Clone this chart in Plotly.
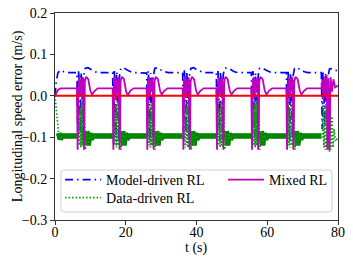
import plotly.graph_objects as go

# ---------------- data ----------------
model_t = [0.0, 0.3, 0.8, 1.5, 2.5, 4.0,
           6.2, 6.45, 6.65, 6.9, 7.15, 7.35, 7.6, 7.9, 8.15, 8.5, 9.3, 10.3, 11.3, 12.3,
           16.3, 16.55, 16.75, 17.0, 17.25, 17.45, 17.7, 18.0, 18.25, 18.6, 19.4, 20.4, 21.4, 22.4,
           25.9, 26.15, 26.35, 26.6, 26.85, 27.05, 27.3, 27.6, 27.85, 28.2, 29.0, 30.0, 31.0, 32.0,
           36.1, 36.35, 36.55, 36.8, 37.05, 37.25, 37.5, 37.8, 38.05, 38.4, 39.2, 40.2, 41.2, 42.2,
           45.6, 45.85, 46.05, 46.3, 46.55, 46.75, 47.0, 47.3, 47.55, 47.9, 48.7, 49.7, 50.7, 51.7,
           55.5, 55.75, 55.95, 56.2, 56.45, 56.65, 56.9, 57.2, 57.45, 57.8, 58.6, 59.6, 60.6, 61.6,
           65.4, 65.65, 65.85, 66.1, 66.35, 66.55, 66.8, 67.1, 67.35, 67.7, 68.5, 69.5, 70.5, 71.5,
           75.3, 75.55, 75.75, 76.0, 76.25, 76.45, 76.7, 77.0, 77.25, 77.6, 78.4, 79.2, 80.0]
model_v = [0.0, 0.03, 0.055, 0.062, 0.058, 0.056,
           0.056, -0.10, 0.06, 0.03, -0.09, 0.055, 0.035, -0.11, 0.05, 0.066, 0.068, 0.062, 0.058, 0.056,
           0.056, -0.12, 0.06, 0.025, -0.10, 0.058, 0.03, -0.11, 0.05, 0.066, 0.068, 0.062, 0.058, 0.056,
           0.055, -0.10, 0.06, 0.03, -0.11, 0.055, 0.035, -0.10, 0.05, 0.066, 0.068, 0.062, 0.058, 0.056,
           0.056, -0.11, 0.062, 0.03, -0.09, 0.055, 0.03, -0.11, 0.05, 0.066, 0.068, 0.062, 0.058, 0.056,
           0.056, -0.10, 0.06, 0.03, -0.11, 0.055, 0.035, -0.10, 0.05, 0.066, 0.068, 0.062, 0.058, 0.056,
           0.056, -0.11, 0.06, 0.03, -0.10, 0.055, 0.03, -0.11, 0.05, 0.066, 0.068, 0.062, 0.058, 0.056,
           0.056, -0.10, 0.062, 0.03, -0.11, 0.055, 0.035, -0.10, 0.05, 0.066, 0.068, 0.062, 0.058, 0.056,
           0.056, -0.08, 0.06, 0.02, -0.07, 0.055, 0.03, -0.06, 0.05, 0.065, 0.066, 0.062, 0.06]

mixed_t = [0.0, 0.8, 1.6,
           6.2, 6.4, 6.65, 6.9, 7.15, 7.4, 7.65, 7.9, 8.2, 8.45, 8.8, 9.4, 10.0, 10.5, 11.2, 12.1,
           16.3, 16.5, 16.75, 17.0, 17.25, 17.5, 17.75, 18.0, 18.3, 18.55, 18.9, 19.5, 20.1, 20.6, 21.3, 22.2,
           25.9, 26.1, 26.35, 26.6, 26.85, 27.1, 27.35, 27.6, 27.9, 28.15, 28.5, 29.1, 29.7, 30.2, 30.9, 31.8,
           36.1, 36.3, 36.55, 36.8, 37.05, 37.3, 37.55, 37.8, 38.1, 38.35, 38.7, 39.3, 39.9, 40.4, 41.1, 42.0,
           45.6, 45.8, 46.05, 46.3, 46.55, 46.8, 47.05, 47.3, 47.6, 47.85, 48.2, 48.8, 49.4, 49.9, 50.6, 51.5,
           55.5, 55.7, 55.95, 56.2, 56.45, 56.7, 56.95, 57.2, 57.5, 57.75, 58.1, 58.7, 59.3, 59.8, 60.5, 61.4,
           65.4, 65.6, 65.85, 66.1, 66.35, 66.6, 66.85, 67.1, 67.4, 67.65, 68.0, 68.6, 69.2, 69.7, 70.4, 71.3,
           75.3, 75.6, 75.9, 76.2, 76.5, 76.8, 77.0, 77.3, 77.6, 77.9, 78.3, 78.7, 79.2, 80.0]
mixed_v = [0.0, 0.014, 0.018,
           0.018, -0.13, 0.03, 0.045, 0.0, 0.04, 0.01, 0.045, -0.13, 0.035, 0.046, 0.04, 0.012, 0.003, 0.012, 0.018,
           0.018, -0.13, 0.035, 0.045, -0.01, 0.04, 0.005, 0.045, -0.13, 0.035, 0.046, 0.04, 0.01, 0.002, 0.012, 0.018,
           0.018, -0.13, 0.03, 0.045, 0.0, 0.04, 0.01, 0.045, -0.13, 0.035, 0.046, 0.04, 0.012, 0.003, 0.012, 0.018,
           0.018, -0.13, 0.035, 0.045, -0.005, 0.04, 0.01, 0.045, -0.13, 0.035, 0.046, 0.04, 0.012, 0.003, 0.012, 0.018,
           0.018, -0.13, 0.03, 0.045, 0.0, 0.04, 0.01, 0.045, -0.13, 0.035, 0.046, 0.04, 0.012, 0.003, 0.012, 0.018,
           0.018, -0.13, 0.035, 0.045, -0.005, 0.04, 0.01, 0.045, -0.13, 0.035, 0.046, 0.04, 0.012, 0.003, 0.012, 0.018,
           0.018, -0.13, 0.03, 0.045, 0.0, 0.04, 0.01, 0.045, -0.13, 0.035, 0.046, 0.04, 0.012, 0.003, 0.012, 0.018,
           0.018, 0.04, -0.01, 0.045, 0.0, 0.05, -0.13, 0.04, -0.13, 0.045, 0.01, 0.04, 0.02, 0.025]

data_t = [0.0, 0.5, 1.0, 1.5, 2.0,
          6.2, 6.5, 6.7, 6.9, 7.1, 7.3, 7.5, 7.7, 7.9, 8.1, 8.3, 8.6, 9.0, 9.4, 9.8, 10.2, 10.8,
          16.3, 16.6, 16.8, 17.0, 17.2, 17.4, 17.6, 17.8, 18.0, 18.2, 18.4, 18.7, 19.1, 19.5, 19.9, 20.3, 20.9,
          25.9, 26.2, 26.4, 26.6, 26.8, 27.0, 27.2, 27.4, 27.6, 27.8, 28.0, 28.3, 28.7, 29.1, 29.5, 29.9, 30.5,
          36.1, 36.4, 36.6, 36.8, 37.0, 37.2, 37.4, 37.6, 37.8, 38.0, 38.2, 38.5, 38.9, 39.3, 39.7, 40.1, 40.7,
          45.6, 45.9, 46.1, 46.3, 46.5, 46.7, 46.9, 47.1, 47.3, 47.5, 47.7, 48.0, 48.4, 48.8, 49.2, 49.6, 50.2,
          55.5, 55.8, 56.0, 56.2, 56.4, 56.6, 56.8, 57.0, 57.2, 57.4, 57.6, 57.9, 58.3, 58.7, 59.1, 59.5, 60.1,
          65.4, 65.7, 65.9, 66.1, 66.3, 66.5, 66.7, 66.9, 67.1, 67.3, 67.5, 67.8, 68.2, 68.6, 69.0, 69.4, 70.0,
          75.3, 75.6, 75.8, 76.0, 76.2, 76.4, 76.6, 76.8, 77.0, 77.2, 77.4, 77.6, 77.8, 78.0, 78.3, 78.6, 78.9, 79.3, 80.0]
data_v = [0.0, -0.05, -0.09, -0.105, -0.097,
          -0.097, -0.10, -0.02, -0.12, -0.03, -0.125, -0.015, -0.12, -0.01, -0.125, -0.03, -0.13, -0.085, -0.12, -0.09, -0.105, -0.097,
          -0.097, -0.10, -0.025, -0.12, -0.02, -0.125, -0.01, -0.12, -0.015, -0.13, -0.03, -0.13, -0.085, -0.12, -0.09, -0.105, -0.097,
          -0.097, -0.10, -0.02, -0.12, -0.03, -0.125, -0.015, -0.12, -0.01, -0.125, -0.03, -0.13, -0.085, -0.12, -0.09, -0.105, -0.097,
          -0.097, -0.10, -0.02, -0.125, -0.025, -0.12, -0.01, -0.125, -0.015, -0.125, -0.03, -0.13, -0.085, -0.12, -0.09, -0.105, -0.097,
          -0.097, -0.10, -0.02, -0.12, -0.03, -0.125, -0.015, -0.12, -0.01, -0.125, -0.03, -0.13, -0.085, -0.12, -0.09, -0.105, -0.097,
          -0.097, -0.10, -0.025, -0.12, -0.02, -0.125, -0.01, -0.12, -0.015, -0.13, -0.03, -0.13, -0.085, -0.12, -0.09, -0.105, -0.097,
          -0.097, -0.10, -0.02, -0.12, -0.03, -0.125, -0.015, -0.12, -0.01, -0.125, -0.03, -0.13, -0.085, -0.12, -0.09, -0.105, -0.097,
          -0.097, -0.10, -0.02, -0.125, -0.03, -0.13, -0.02, -0.125, -0.01, -0.13, -0.02, -0.135, -0.03, -0.13, -0.05, -0.125, -0.08, -0.11, -0.10]

event_start = [6.3, 16.4, 26.0, 36.2, 45.7, 55.6, 65.5, 75.4]
ref_t = [0, 80]
ref_v = [0.0, 0.0]

x_ticks = [0, 20, 40, 60, 80]
y_ticks = [-0.3, -0.2, -0.1, 0.0, 0.1, 0.2]
x_title = "t (s)"
y_title = "Longitudinal speed error (m/s)"

FONT = "Liberation Serif"

# steady (noisy-looking) part of the data-driven series, drawn as a thick band
def in_event(t):
    if t < 1.0:
        return True
    for i, s in enumerate(event_start):
        end = 80.1 if i == len(event_start) - 1 else s + 2.4
        if s + 0.15 <= t <= end:
            return True
    return False

band_v = [None if in_event(t) else v for t, v in zip(data_t, data_v)]

fig = go.Figure()
fig.add_trace(go.Scatter(x=model_t, y=model_v, mode="lines", name="Model-driven RL",
                         line=dict(color="#0000ff", width=1.7, dash="8px,4px,1.5px,4px"),
                         legend="legend"))
fig.add_trace(go.Scatter(x=data_t, y=band_v, mode="lines", showlegend=False,
                         line=dict(color="#008000", width=5.5), connectgaps=False,
                         hoverinfo="skip"))
fig.add_trace(go.Scatter(x=data_t, y=data_v, mode="lines", name="Data-driven RL",
                         line=dict(color="#00a000", width=1.7, dash="1.5px,2px"),
                         legend="legend3"))
fig.add_trace(go.Scatter(x=mixed_t, y=mixed_v, mode="lines", name="Mixed RL",
                         line=dict(color="#bf00bf", width=1.8),
                         legend="legend2"))
fig.add_trace(go.Scatter(x=ref_t, y=ref_v, mode="lines", showlegend=False,
                         line=dict(color="#ff0000", width=2)))

# legend frame (rounded)
x0, x1, y0, y1 = 0.0212, 0.9788, 0.0386, 0.2415
rx, ry = 0.011, 0.015
path = (f"M {x0+rx},{y0} L {x1-rx},{y0} Q {x1},{y0} {x1},{y0+ry} L {x1},{y1-ry} "
        f"Q {x1},{y1} {x1-rx},{y1} L {x0+rx},{y1} Q {x0},{y1} {x0},{y1-ry} "
        f"L {x0},{y0+ry} Q {x0},{y0} {x0+rx},{y0} Z")
fig.add_shape(type="path", path=path, xref="paper", yref="paper",
              fillcolor="rgba(255,255,255,0.8)", line=dict(color="#d0d0d0", width=1),
              layer="above")

# axis titles placed precisely
fig.add_annotation(text=y_title, xref="paper", yref="paper", x=-0.132, y=0.5,
                   xanchor="center", yanchor="middle", textangle=-90, showarrow=False,
                   font=dict(family=FONT, size=14, color="black"))
fig.add_annotation(text=x_title, xref="paper", yref="paper", x=0.5, y=-0.133,
                   xanchor="center", yanchor="middle", showarrow=False,
                   font=dict(family=FONT, size=14, color="black"))

leg_common = dict(xanchor="left", yanchor="middle", bgcolor="rgba(0,0,0,0)",
                  borderwidth=0, itemwidth=36, font=dict(family=FONT, size=14, color="black"))

axis_common = dict(showline=True, mirror=True, linecolor="#333333", linewidth=1,
                   ticks="outside", ticklen=4, tickcolor="#333333", showgrid=False,
                   zeroline=False, automargin=False,
                   tickfont=dict(family=FONT, size=14, color="black"))

fig.update_layout(
    width=353, height=263,
    margin=dict(l=55, r=15, t=13, b=43),
    plot_bgcolor="white", paper_bgcolor="white",
    font=dict(family=FONT, size=14, color="black"),
    xaxis=dict(range=[0, 80], tickvals=x_ticks, ticklabelstandoff=-5, **axis_common),
    yaxis=dict(range=[-0.3, 0.2], tickvals=y_ticks, tickformat=".1f", **axis_common),
    legend=dict(x=0.018, y=0.193, **leg_common),
    legend2=dict(x=0.594, y=0.193, **leg_common),
    legend3=dict(x=0.018, y=0.106, **leg_common),
)

fig.write_html("out.html", config={"displayModeBar": False},
               post_script="document.body.style.margin='0';")
